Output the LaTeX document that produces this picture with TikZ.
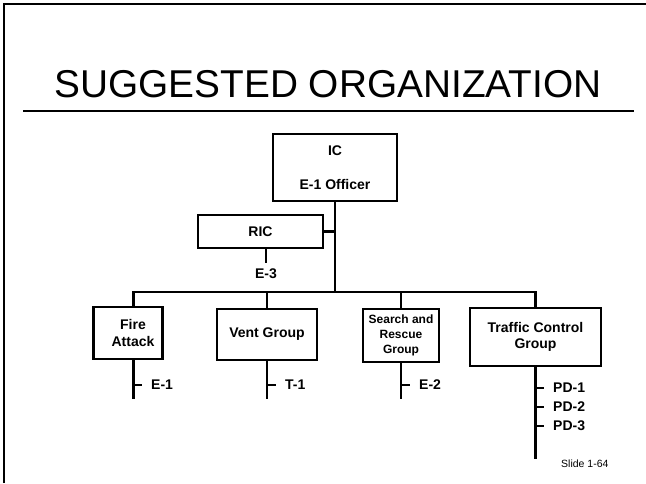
\documentclass[tikz,border=0pt]{standalone}
\usepackage{fontspec}
\setmainfont{Liberation Sans}
\usetikzlibrary{positioning}
\tikzstyle{unit} = [draw, rectangle, line width=2.1pt, align=center, inner sep=0pt, font=\fontsize{14}{16.5}\selectfont\bfseries]
\tikzstyle{tag} = [anchor=west, inner sep=0pt, font=\fontsize{14}{16}\selectfont\bfseries]
\tikzstyle{link} = [line width=2.6pt]

\begin{document}
\begin{tikzpicture}[x=1pt, y=-1pt]
\useasboundingbox (0,0) rectangle (646,483);

% slide frame and title
\draw [line width=2.5pt] (4,483) -- (4,4) -- (646,4);
\node [anchor=base, font=\fontsize{38.8}{46}\selectfont] (title) at (328,97) {SUGGESTED ORGANIZATION};
\draw [line width=1.5pt] (23,111) -- (634,111);

\node [unit, minimum width=124pt, minimum height=67pt] (ic) at (335,167.5) {IC\\[18pt]E-1 Officer};
\node [unit, minimum width=125pt, minimum height=33pt] (ric) at (260.5,231.5) {RIC};
\node [unit, minimum width=69pt, minimum height=52pt] (fire) at (128,333) {\hspace*{10pt}Fire\\\hspace*{10pt}Attack};
\node [unit, minimum width=100pt, minimum height=51pt] (vent) at (267,334.5) {Vent Group};
\node [unit, minimum width=76pt, minimum height=53pt, font=\fontsize{12}{15}\selectfont\bfseries] (search) at (401,335.5) {Search and\\Rescue\\Group};
\node [unit, minimum width=131pt, minimum height=58pt] (traffic) at (535.5,337) {Traffic Control\\Group};

\coordinate (bus) at (335,292);
\coordinate (firetop) at ([xshift=5.5pt]fire.north);
\coordinate (firebot) at ([xshift=5.5pt]fire.south);
\draw [link] (ic.south) -- (bus);
\draw [link] (ric.east) -- (ric.east -| ic.south);
\draw [link] (firetop) |- (bus) -| (traffic.north);
\draw [link] (vent.north) -- (vent.north |- bus);
\draw [link] (search.north) -- (search.north |- bus);

% reserve
\node [tag, anchor=center] (e3) at (266,274) {E-3};
\draw [link] (ric.south -| e3) -- ([yshift=6pt]e3.north);

% companies under each group
\node [tag] (e1) at (151,385) {E-1};
\node [tag] (t1) at (285,385) {T-1};
\node [tag] (e2) at (419,385) {E-2};
\node [tag] (pd1) at (553,388) {PD-1};
\node [tag] (pd2) at (553,407) {PD-2};
\node [tag] (pd3) at (553,426) {PD-3};

\draw [link] (firebot) -- ([yshift=-39pt]firebot);
\draw [link] (vent.south) -- ([yshift=-38pt]vent.south);
\draw [link] (search.south) -- ([yshift=-36pt]search.south);
\draw [link] (traffic.south) -- ([yshift=-92pt]traffic.south);

\draw [link] (firebot |- e1.west) -- ([xshift=-9pt]e1.west);
\draw [link] (vent.south |- t1.west) -- ([xshift=-9pt]t1.west);
\draw [link] (search.south |- e2.west) -- ([xshift=-9pt]e2.west);
\draw [link] (traffic.south |- pd1.west) -- ([xshift=-9pt]pd1.west);
\draw [link] (traffic.south |- pd2.west) -- ([xshift=-9pt]pd2.west);
\draw [link] (traffic.south |- pd3.west) -- ([xshift=-9pt]pd3.west);

\node [anchor=base east, font=\fontsize{10.5}{12}\selectfont] (slide) at (612,467) {Slide 1-64};

\end{tikzpicture}
\end{document}
